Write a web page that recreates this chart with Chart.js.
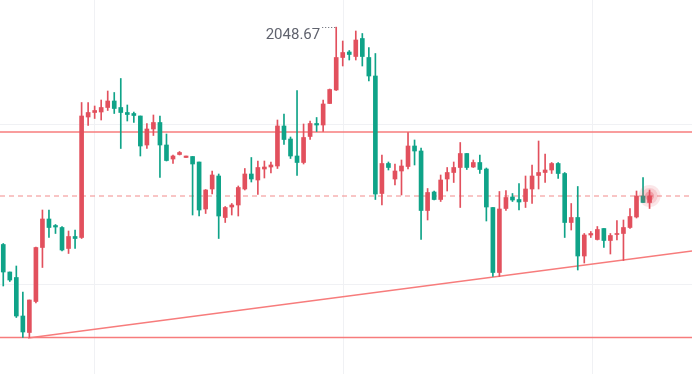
<!DOCTYPE html>
<html>
<head>
<meta charset="utf-8">
<script src="https://cdn.jsdelivr.net/npm/chart.js@4.4.1/dist/chart.umd.min.js"></script>
<style>
  html, body { margin: 0; padding: 0; background: #fff; }
  #wrap { width: 692px; height: 374px; }
</style>
</head>
<body>
<div id="wrap"><canvas id="chart"></canvas></div>
<script>
// --- DATA (one entry per candle, left to right) ---
const opens = [2005.2,1999.7,1998.6,1990.9,1987.6,1993.8,2004.6,2010.3,2009.0,2008.6,
  2004.4,2006.8,2006.6,2030.7,2031.6,2031.7,2032.6,2033.9,2032.6,2031.6,
  2031.4,2030.9,2025.1,2028.3,2029.6,2025.1,2022.3,2023.2,2022.6,2022.8,
  2021.7,2012.3,2016.3,2018.9,2010.6,2012.7,2013.1,2016.3,2019.3,2018.1,
  2020.3,2020.7,2020.9,2028.9,2026.3,2022.9,2021.6,2026.8,2029.4,2029.1,
  2033.4,2036.1,2042.6,2043.7,2042.8,2046.4,2042.6,2038.9,2015.4,2021.4,
  2018.3,2019.9,2020.8,2024.9,2023.9,2012.0,2015.7,2014.2,2018.3,2019.6,
  2020.6,2023.4,2020.7,2021.6,2020.3,2012.6,1999.6,2012.4,2014.7,2014.2,
  2013.8,2016.3,2019.0,2019.6,2020.1,2021.4,2019.4,2009.6,2010.6,2002.9,
  2007.1,2006.2,2008.4,2006.0,2007.2,2007.4,2008.6,2010.7,2014.9,2013.6];
const highs = [2005.4,1999.7,2000.9,1995.7,1994.1,2004.7,2012.1,2012.1,2009.2,2008.8,
  2007.9,2008.1,2033.6,2033.6,2032.9,2034.1,2035.9,2035.6,2038.4,2033.1,
  2031.7,2030.9,2029.4,2031.1,2030.9,2027.3,2023.1,2023.8,2022.9,2022.8,
  2021.7,2016.2,2019.9,2019.3,2012.8,2013.4,2016.9,2020.4,2022.6,2021.9,
  2021.9,2021.7,2030.1,2031.3,2026.7,2036.0,2029.3,2029.9,2030.6,2034.1,
  2036.3,2048.67,2045.9,2044.0,2047.9,2047.4,2044.6,2043.4,2023.1,2021.7,
  2021.3,2022.1,2027.6,2026.1,2024.5,2016.4,2015.9,2019.1,2020.6,2021.7,
  2025.6,2023.4,2022.1,2023.1,2020.5,2012.6,2015.8,2016.0,2015.4,2017.4,
  2018.9,2021.1,2025.9,2023.3,2021.6,2021.6,2019.6,2013.4,2016.8,2007.4,
  2007.8,2008.8,2008.4,2007.4,2010.0,2010.1,2012.4,2015.9,2018.6,2016.1];
const lows = [1996.9,1997.8,1990.6,1986.6,1986.6,1993.5,2000.6,2006.6,2007.4,2003.9,
  2003.4,2004.4,2006.4,2029.0,2030.4,2030.1,2032.0,2031.4,2024.4,2029.9,
  2029.6,2022.9,2024.4,2027.0,2018.6,2021.9,2021.4,2023.1,2022.6,2011.1,
  2010.9,2011.4,2015.3,2006.4,2009.6,2011.1,2010.9,2016.1,2017.7,2015.2,
  2018.5,2019.5,2020.4,2025.2,2022.4,2019.0,2021.3,2026.2,2027.8,2027.8,
  2033.4,2036.0,2040.9,2042.1,2042.1,2040.9,2037.9,2014.2,2013.1,2020.1,
  2017.1,2015.1,2020.3,2021.1,2006.2,2010.1,2014.1,2013.8,2015.9,2017.6,
  2012.6,2020.2,2020.6,2019.4,2009.9,1998.8,1998.8,2012.0,2013.8,2012.1,
  2012.6,2013.4,2016.3,2017.6,2019.4,2018.4,2006.6,2008.1,2000.1,2001.5,
  2006.6,2006.1,2004.6,2003.3,2006.1,2002.0,2008.4,2010.5,2013.6,2012.4];
const closes = [1999.7,1998.1,1990.9,1987.7,1994.1,2004.6,2010.3,2008.6,2008.7,2004.1,
  2006.8,2006.4,2030.9,2031.6,2032.0,2032.6,2033.9,2032.4,2031.6,2031.2,
  2031.0,2024.9,2028.3,2029.6,2025.1,2022.0,2022.9,2023.6,2022.9,2021.3,
  2012.1,2016.1,2019.1,2010.9,2012.6,2013.1,2016.6,2019.3,2018.3,2020.6,
  2020.7,2021.1,2028.9,2026.2,2022.9,2021.6,2026.6,2029.4,2029.1,2033.3,
  2036.2,2042.6,2043.6,2043.2,2046.1,2042.8,2038.9,2015.3,2021.4,2020.6,
  2019.9,2020.9,2024.9,2023.9,2012.0,2015.6,2014.2,2018.1,2019.6,2020.6,
  2023.4,2020.6,2021.6,2020.2,2012.7,1999.6,2012.3,2014.6,2014.1,2013.7,
  2016.3,2018.9,2019.6,2020.1,2021.4,2019.4,2009.6,2010.6,2002.9,2007.1,
  2007.4,2008.2,2006.0,2007.0,2007.4,2008.6,2010.8,2014.9,2013.6,2014.9];

// drawn levels
const levelLines = [2027.7, 1986.6];
const lastPrice = 2014.9;
const trendStart = { x: 3.79, y: 1986.5 };
const trendEnd = { x: 105.5, y: 2003.9 };
const highLabel = { index: 51, text: '2048.67' };

// faint grid
const gridX = [13.85, 52, 90.14];
const gridY = [2029.3, 1997.3];

const SLOTS = 106;          // candle slots across the width (right side left empty)
const Y_MIN = 1979.3, Y_MAX = 2054.1;

const UP = '#e2505d';
const DOWN = '#0fa388';
const LINE = '#f77c7c';

const colorAt = i => (closes[i] >= opens[i] ? UP : DOWN);

const bodies = opens.map((o, i) => ({ x: i, y: [o, closes[i]] }));
const wicks = lows.map((l, i) => ({ x: i, y: [l, highs[i]] }));
const hLine = v => [{ x: -0.5, y: v }, { x: SLOTS - 0.5, y: v }];
const last = closes.length - 1;
const lastPoint = [{ x: last, y: closes[last] }];

const gridPlugin = {
    id: 'grid',
    beforeDatasetsDraw(chart) {
        const { ctx, chartArea: a, scales: { x, y } } = chart;
        ctx.save();
        ctx.strokeStyle = '#f0f1f4';
        ctx.lineWidth = 1;
        gridX.forEach(v => {
            const px = Math.round(x.getPixelForValue(v)) + 0.5;
            ctx.beginPath(); ctx.moveTo(px, a.top); ctx.lineTo(px, a.bottom); ctx.stroke();
        });
        gridY.forEach(v => {
            const py = Math.round(y.getPixelForValue(v)) + 0.5;
            ctx.beginPath(); ctx.moveTo(a.left, py); ctx.lineTo(a.right, py); ctx.stroke();
        });
        ctx.restore();
    }
};

const highLabelPlugin = {
    id: 'highLabel',
    afterDatasetsDraw(chart) {
        const { ctx, scales: { x, y } } = chart;
        const px = x.getPixelForValue(highLabel.index);
        const py = Math.round(y.getPixelForValue(highs[highLabel.index])) + 0.5;
        ctx.save();
        ctx.strokeStyle = '#5d606b';
        ctx.lineWidth = 1;
        ctx.setLineDash([1, 2]);
        ctx.beginPath(); ctx.moveTo(px - 14, py); ctx.lineTo(px - 1, py); ctx.stroke();
        ctx.setLineDash([]);
        ctx.fillStyle = '#60636e';
        ctx.font = '15px Roboto, "Liberation Sans", sans-serif';
        ctx.textAlign = 'right';
        ctx.textBaseline = 'alphabetic';
        ctx.fillText(highLabel.text, px - 16, py + 11);
        ctx.restore();
    }
};

new Chart(document.getElementById('chart'), {
    data: {
        datasets: [
            { type: 'bar', data: bodies, backgroundColor: c => colorAt(c.dataIndex),
              barThickness: 4, grouped: false, minBarLength: 1, order: 3 },
            { type: 'bar', data: wicks, backgroundColor: c => colorAt(c.dataIndex),
              barThickness: 1, grouped: false, minBarLength: 1, order: 4 },
            { type: 'line', data: hLine(levelLines[0]), borderColor: LINE, borderWidth: 1.5, pointRadius: 0, order: 5 },
            { type: 'line', data: hLine(levelLines[1]), borderColor: LINE, borderWidth: 1.5, pointRadius: 0, order: 5 },
            { type: 'line', data: hLine(lastPrice), borderColor: '#f28b8b', borderWidth: 1, borderDash: [5, 4], pointRadius: 0, order: 5 },
            { type: 'line', data: [trendStart, trendEnd], borderColor: LINE, borderWidth: 1.5, pointRadius: 0, order: 5 },
            // pulsing marker on the live candle
            { type: 'scatter', data: lastPoint, pointRadius: 11, borderWidth: 0,
              backgroundColor: 'rgba(230,80,93,0.14)', order: 2 },
            { type: 'scatter', data: lastPoint, pointRadius: 8, borderWidth: 0,
              backgroundColor: 'rgba(230,80,93,0.18)', order: 1 },
            { type: 'scatter', data: lastPoint, pointRadius: 4.5, borderWidth: 0,
              backgroundColor: 'rgba(226,70,85,0.35)', order: 0 }
        ]
    },
    options: {
        responsive: true,
        maintainAspectRatio: false,
        animation: false,
        events: [],
        layout: { padding: 0, autoPadding: false },
        plugins: { legend: { display: false }, tooltip: { enabled: false } },
        scales: {
            x: { type: 'linear', min: -0.5, max: SLOTS - 0.5, offset: false, display: false },
            y: { type: 'linear', min: Y_MIN, max: Y_MAX, display: false }
        }
    },
    plugins: [gridPlugin, highLabelPlugin]
});
</script>
</body>
</html>
